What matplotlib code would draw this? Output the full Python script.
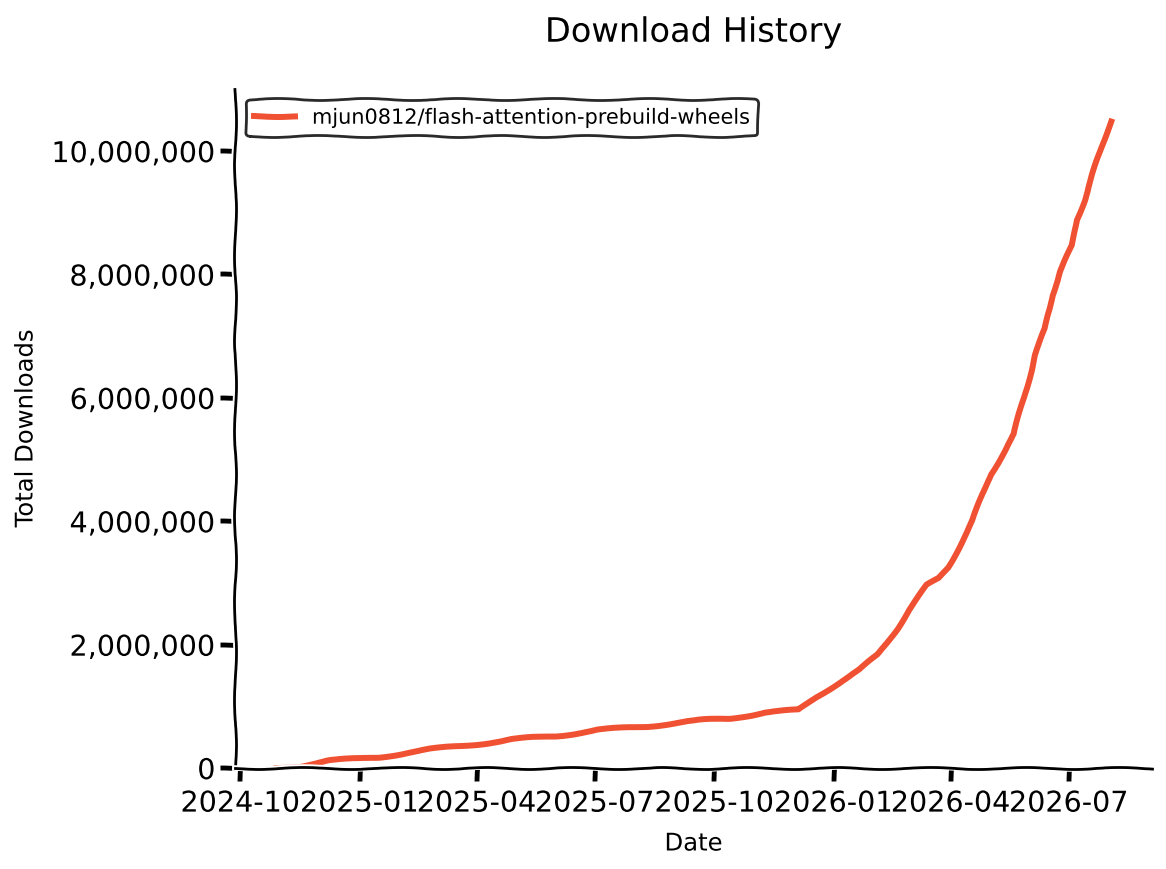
import matplotlib
matplotlib.use("Agg")
import matplotlib.pyplot as plt
import matplotlib.dates as mdates
import matplotlib.ticker as mticker
import pandas as pd

dates = ["2024-10-29", "2024-11-15", "2024-12-08", "2025-01-16", "2025-02-24",
         "2025-03-21", "2025-04-29", "2025-06-02", "2025-07-03", "2025-08-11",
         "2025-09-11", "2025-10-14", "2025-11-09", "2025-12-05", "2025-12-18",
         "2026-01-05", "2026-01-21", "2026-02-04", "2026-02-19", "2026-02-28",
         "2026-03-14", "2026-03-23", "2026-03-30", "2026-04-10", "2026-04-18",
         "2026-04-26", "2026-05-02", "2026-05-11", "2026-05-20", "2026-05-28",
         "2026-06-05", "2026-06-13", "2026-06-18", "2026-06-24", "2026-07-04",
         "2026-07-07", "2026-07-13", "2026-07-19", "2026-07-27", "2026-08-02"]
downloads = [0, 30000, 118000, 177000, 306000,
             354000, 467000, 520000, 617000, 676000,
             761000, 805000, 902000, 939000, 1143000,
             1385000, 1594000, 1836000, 2270000, 2560000,
             2963000, 3076000, 3253000, 3688000, 4010000,
             4444000, 4766000, 5089000, 5410000, 6055000,
             6699000, 7118000, 7665000, 8035000, 8470000,
             8889000, 9211000, 9597000, 10080000, 10483000]
series_name = "mjun0812/flash-attention-prebuild-wheels"
title = "Download History"
xlabel = "Date"
ylabel = "Total Downloads"

x = pd.to_datetime(dates)

with plt.xkcd():
    plt.rcParams['font.family'] = ['DejaVu Sans']
    plt.rcParams['axes.linewidth'] = 2.0
    fig = plt.figure(figsize=(11.66, 8.7), dpi=100)
    ax = fig.add_axes([0.2015, 0.116, 0.7865, 0.7806])
    ax.plot(x, downloads, color="#f05132", linewidth=4.3, label=series_name)
    ax.set_ylim(bottom=0)
    ax.spines['top'].set_visible(False)
    ax.spines['right'].set_visible(False)
    ax.xaxis.set_major_locator(mdates.MonthLocator(bymonth=[1, 4, 7, 10]))
    ax.xaxis.set_major_formatter(mdates.DateFormatter("%Y-%m"))
    ax.yaxis.set_major_formatter(mticker.FuncFormatter(lambda v, p: f"{int(v):,}"))
    ax.tick_params(axis='both', labelsize=20.6, length=9, width=3.5)
    ax.tick_params(axis='x', pad=6.5)
    ax.tick_params(axis='y', length=10.5)
    ax.set_xlabel(xlabel, fontsize=17.5, labelpad=10)
    ax.set_ylabel(ylabel, fontsize=17.5, labelpad=10)
    ax.set_title(title, fontsize=24.2, pad=34)
    leg = ax.legend(loc="upper left", fontsize=15, frameon=True, framealpha=1.0)
    leg.get_frame().set_edgecolor("#2a2a2a")
    leg.get_frame().set_linewidth(2.0)
    fig.savefig("out.png", dpi=100)
